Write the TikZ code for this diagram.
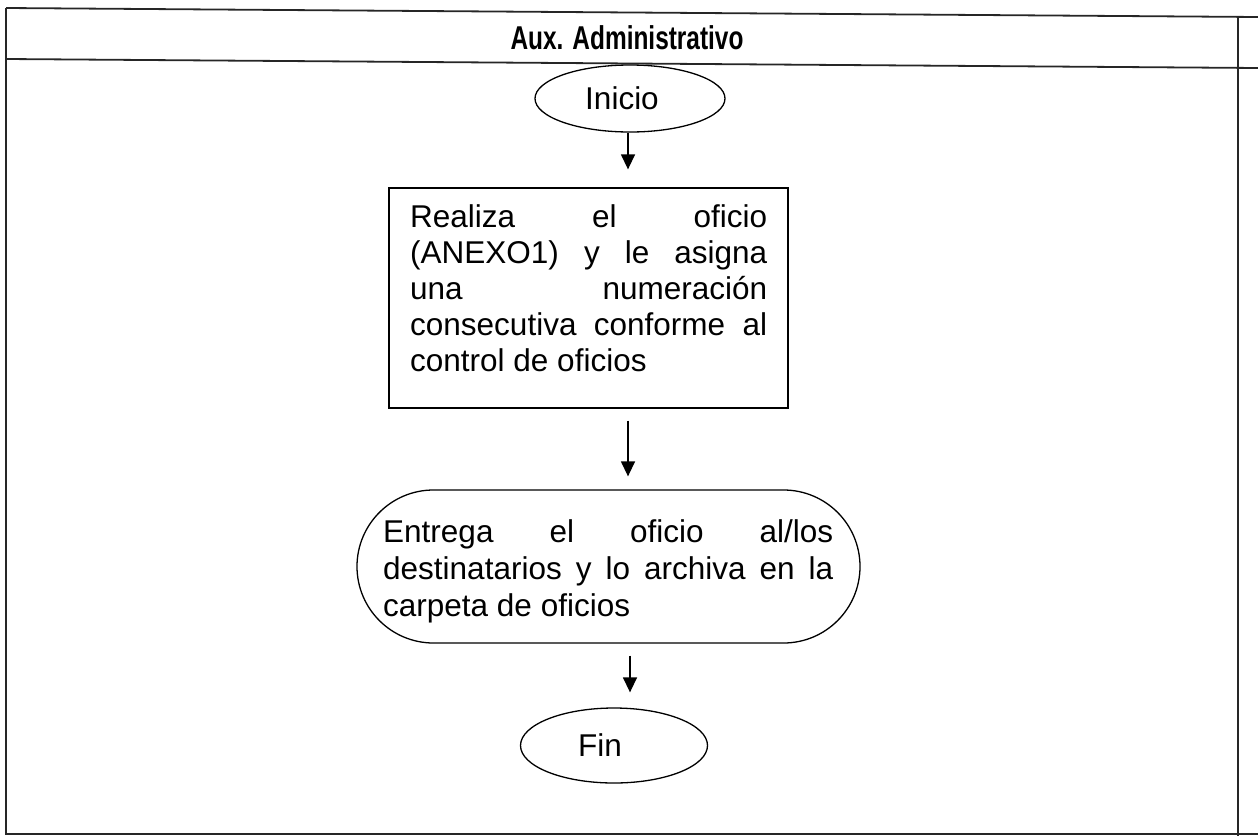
\documentclass[tikz,border=0pt]{standalone}
\usepackage{fontspec}
\setmainfont{Liberation Sans}
\usetikzlibrary{arrows.meta,shapes.geometric,shapes.misc,calc}
\hyphenpenalty=10000
\exhyphenpenalty=10000
\tolerance=9999
\pretolerance=-1
\begin{document}
\begin{tikzpicture}[x=1pt,y=-1pt,
  frameline/.style={draw=black!85, line width=1.8pt},
  shapeline/.style={draw=black, line width=1.3pt},
  arr/.style={-{Triangle[length=15pt,width=14pt]}, line width=1.4pt},
  bodyfont/.style={font=\fontsize{31.5}{36}\selectfont},
  termfont/.style={font=\fontsize{31.5}{37}\selectfont},
  hdrfont/.style={font=\bfseries\fontsize{33}{36}\selectfont}]
\useasboundingbox (0,0) rectangle (1258,836);

% frame of the lane
\draw[frameline] (6,8) -- (1258,17);
\draw[frameline] (6,59) -- (1258,68);
\draw[frameline] (6,8) -- (6,834) -- (1258,834);
\draw[frameline] (1238,16.5) -- (1238,836);

\node[hdrfont, inner sep=0, xscale=0.74] (hdr) at (627,38) {Aux. Administrativo};

% flow
\node[ellipse, shapeline, minimum width=190pt, minimum height=67pt, inner sep=0, bodyfont] (ini) at (630,98.5) {\hspace*{-16pt}Inicio};

\node[shapeline, minimum width=399pt, minimum height=220pt, inner sep=0] (box) at (588.5,298) {};
\node[anchor=north west, inner sep=0, text width=357pt, align=justify, bodyfont] (boxtxt) at (410,204)
  {Realiza el oficio (ANEXO1) y le asigna una numeración consecutiva conforme al control de oficios};

\node[rounded rectangle, shapeline, minimum width=503pt, minimum height=153pt, inner sep=0] (ent) at (608.5,566.5) {};
\node[anchor=north west, inner sep=0, text width=450pt, align=justify, termfont] (enttxt) at (383,519)
  {Entrega el oficio al/los destinatarios y lo archiva en la carpeta de oficios};

\node[ellipse, shapeline, minimum width=187pt, minimum height=75pt, inner sep=0, bodyfont] (fin) at (614,745.5) {\hspace*{-28pt}Fin};

\coordinate (ax) at (628,0);
\coordinate (bx) at (630,0);

\draw[arr, shorten >=18pt] (ax |- ini.south) -- (ax |- box.north);
\draw[arr, shorten <=12pt, shorten >=13pt] (ax |- box.south) -- (ax |- ent.north);
\draw[arr, shorten <=12pt, shorten >=15pt] (bx |- ent.south) -- (bx |- fin.north);
\end{tikzpicture}
\end{document}
